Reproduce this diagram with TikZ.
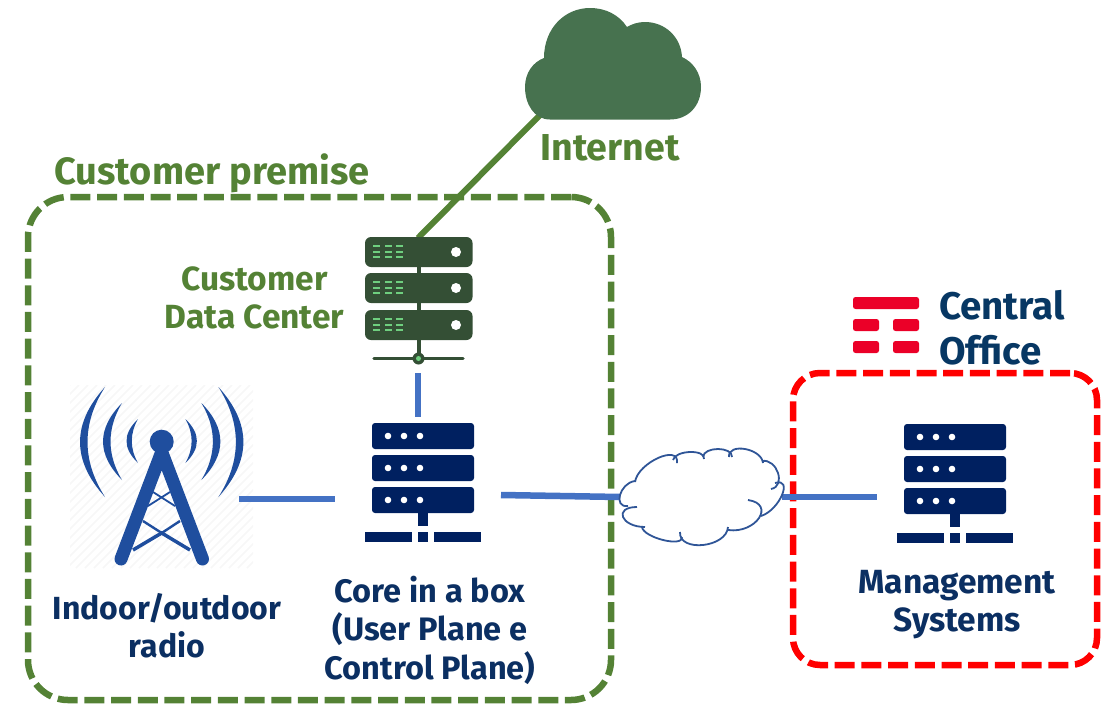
\documentclass[tikz,border=0pt]{standalone}
\usepackage{fontspec}
\setmainfont{Fira Sans}
\usetikzlibrary{calc}

\definecolor{linkblue}{HTML}{4472C4}
\definecolor{navyrack}{HTML}{002060}
\definecolor{navytext}{HTML}{0B2F62}
\definecolor{officetext}{HTML}{073763}
\definecolor{premisegreen}{HTML}{548235}
\definecolor{dcgreen}{HTML}{344F35}
\definecolor{ledgreen}{HTML}{6FCF7F}
\definecolor{cloudgreen}{HTML}{47724F}
\definecolor{towerblue}{HTML}{1F4E9E}
\definecolor{wanblue}{HTML}{2F5597}
\definecolor{timred}{HTML}{EB0028}

\tikzset{
  link/.style={draw=linkblue,line width=6.5pt},
  uplink/.style={draw=premisegreen,line width=6pt},
  zonebox/.style={draw,line width=6.5pt,dash pattern=on 20pt off 6.7pt,rounded corners=#1,inner sep=0pt},
  anchorbox/.style={inner sep=0pt,outer sep=0pt},
  navylabel/.style={text=navytext,font=\fontsize{#1}{38.5}\selectfont\bfseries,align=center},
  greenlabel/.style={text=premisegreen,font=\fontsize{#1}{38}\selectfont\bfseries,align=center},
  navyserver/.pic={
    \foreach \y in {0,32,64} {
      \fill[navyrack,rounded corners=3pt] (0,\y) rectangle (102,\y+26);
      \foreach \x in {16,32,48}
        \fill[white] (\x,\y+13) circle (3.3);
    }
    \fill[navyrack] (46,90) rectangle (56,103);
    \fill[navyrack] (-7,109) rectangle (40,119);
    \fill[navyrack] (46,109) rectangle (56,119);
    \fill[navyrack] (62,109) rectangle (109,119);
  },
}

\begin{document}
\begin{tikzpicture}[x=1pt,y=-1pt]
  \useasboundingbox (0,0) rectangle (1111,704);

  % dashed zones
  \node[zonebox=40pt,draw=premisegreen,minimum width=583pt,minimum height=503pt] (premise) at (319.5,448.5) {};
  \node[zonebox=27pt,draw=red,minimum width=304pt,minimum height=292pt] (office) at (945,519) {};

  % invisible boxes the links attach to
  \begin{scope}[every node/.style={anchorbox}]
    \node[minimum width=146pt,minimum height=102pt] (internet) at (613,64) {};
    \node[minimum width=108pt,minimum height=135pt] (datacenter) at (418,305.5) {};
    \node[minimum width=166pt,minimum height=156pt] (core) at (418,495) {};
    \node[minimum width=156pt,minimum height=160pt] (radio) at (161,499) {};
    \node[minimum width=162pt,minimum height=98pt] (wan) at (701,497) {};
    \node[minimum width=156pt,minimum height=146pt] (mgmt) at (955,497) {};
  \end{scope}

  % faint backdrop of the radio icon
  \begin{scope}
    \clip (70,385) rectangle (253,568);
    \foreach \i in {0,9,...,370}
      \draw[black!3,line width=1.5pt] (70+\i-183,568) -- (70+\i,385);
  \end{scope}

  % links
  \draw[uplink] (datacenter.north) -- (internet.south west);
  \draw[link] (datacenter.south) -- (core.north);
  \draw[link] (radio.east) -- (core.west |- radio.east);
  \draw[link] (core.east) -- (wan.west);
  \draw[link] (wan.east) -- (mgmt.west);

  % internet cloud
  \fill[cloudgreen] (550,119.5)
    .. controls (534,119.5) and (525,104) .. (525,87)
    .. controls (525,73) and (533,62) .. (544,58)
    .. controls (544,28) and (565,8) .. (590,8)
    .. controls (606,8) and (619,15) .. (627,27)
    .. controls (632,24) and (638,22) .. (645,22)
    .. controls (665,22) and (681,37) .. (682,57)
    .. controls (693,62) and (701,73) .. (701,87)
    .. controls (701,106) and (688,119.5) .. (670,119.5)
    -- cycle;

  % customer data center rack
  \fill[dcgreen] (416.5,262) rectangle (420.5,358);
  \foreach \y in {237,273,310} {
    \fill[dcgreen,rounded corners=6pt] (365,\y) rectangle (472.5,\y+30);
    \fill[white] (456,\y+15) circle (5);
    \foreach \x in {373,385,396}
      \foreach \r in {9,15,20}
        \draw[ledgreen,line width=1.2pt] (\x,\y+\r) -- (\x+7,\y+\r);
  }
  \draw[dcgreen,line width=3.5pt,line cap=round] (374,358.5) -- (463,358.5);
  \fill[dcgreen] (418.5,358.5) circle (6);
  \fill[ledgreen] (418.5,358.5) circle (2.5);

  % navy racks
  \pic at (372,423) {navyserver};
  \pic at (904,424) {navyserver};

  % radio tower
  \fill[towerblue] (161.7,441.7) circle (12);
  \draw[towerblue,line width=13pt,line cap=round,line join=round] (121,559) -- (161.7,452) -- (202.5,559);
  \draw[towerblue,line width=1.8pt] (153,492) -- (175,506) (170,492) -- (148,506);
  \draw[towerblue,line width=2.4pt] (143,521) -- (161.7,533) (180,521) -- (161.7,533);
  \draw[towerblue,line width=3.5pt] (133,550) -- (161.7,533) -- (190,550);
  \foreach \flip in {1,-1} {
    \begin{scope}[shift={(161.7,0)},xscale=\flip]
      \foreach \ya/\yb/\xout/\xin/\xtip in
        {387/497/-90/-80/-56.7,403/480/-65/-55/-39.7,419/463/-39/-32/-23.7} {
        \fill[towerblue] (\xtip,\ya)
          .. controls (\xout,{\ya+(\yb-\ya)/3}) and (\xout,{\yb-(\yb-\ya)/3}) .. (\xtip,\yb)
          .. controls (\xin,{\yb-(\yb-\ya)/3}) and (\xin,{\ya+(\yb-\ya)/3}) .. (\xtip,\ya);
      }
    \end{scope}
  }

  % wan cloud
  \fill[white] plot[smooth cycle] coordinates {(635,482) (658,458) (690,452) (718,449) (745,449) (778,473) (782,495) (759,518) (703,545) (663,540) (623,517) (620,495)};
  \foreach \a/\m/\b in {
    {635,482}/{658,458}/{677,463},
    {673,460}/{690,452}/{704,459},
    {703,457}/{718,449}/{732,457},
    {729,457}/{745,449}/{763,463},
    {762,461}/{778,473}/{771,489},
    {775,483}/{782,495}/{761,516},
    {748,500}/{759,518}/{728,530},
    {728,527}/{703,545}/{680,532},
    {682,537}/{663,540}/{642,527},
    {645,527}/{623,517}/{637,507},
    {628,506}/{620,495}/{635,481}} {
    \draw[wanblue,line width=1.8pt] (\a)
      .. controls ($1/3*(\a)+4/3*(\m)-2/3*(\b)$) and ($1/3*(\b)+4/3*(\m)-2/3*(\a)$) .. (\b);
  }

  % operator logo
  \begin{scope}[timred,rounded corners=2.5pt]
    \fill (853,297) rectangle (919,309);
    \foreach \y in {319,341} {
      \fill (853,\y) rectangle (879,\y+12);
      \fill (893,\y) rectangle (919,\y+12);
    }
  \end{scope}

  % labels
  \node[greenlabel=38] (premiselabel) at (212,173) {Customer premise};
  \node[greenlabel=37.5] (internetlabel) at (610,148) {Internet};
  \node[greenlabel=33.5] (datacenterlabel) at (254.5,298) {Customer\\Data Center};
  \node[navylabel=32] (radiolabel) at (167,625.5) {Indoor/outdoor\\radio};
  \node[navylabel=32.5] (corelabel) at (430,630) {Core in a box\\(User Plane e\\Control Plane)};
  \node[navylabel=33.5] (mgmtlabel) at (957,604.5) {Management\\Systems};
  \node[text=officetext,font=\fontsize{38.5}{45}\selectfont\bfseries,align=left,anchor=west] (officelabel) at (935.5,328) {Central\\Office};
\end{tikzpicture}
\end{document}
